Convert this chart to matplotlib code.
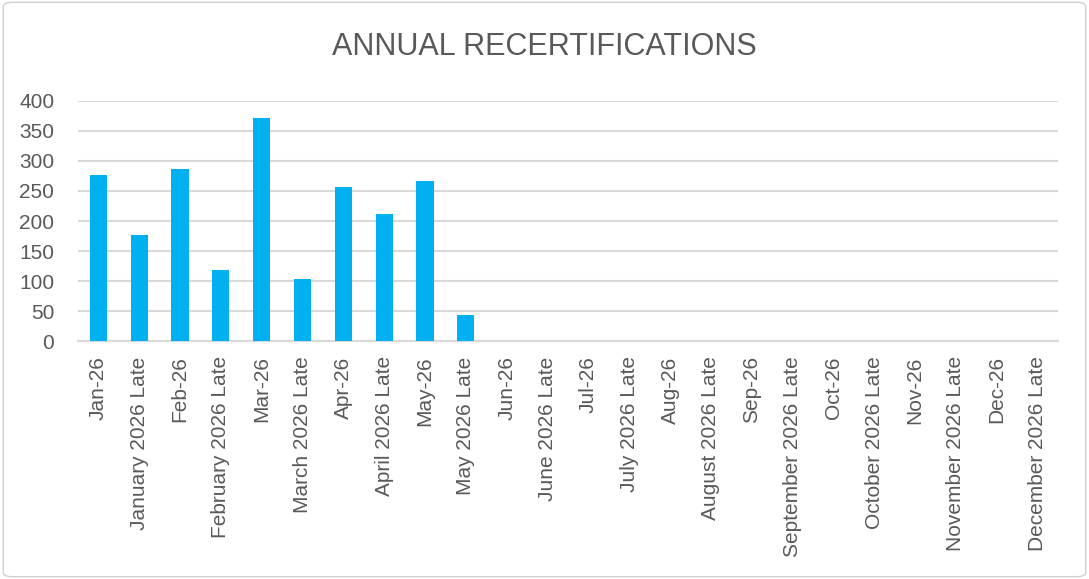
import matplotlib.pyplot as plt
from matplotlib.patches import FancyBboxPatch

plt.rcParams['font.family'] = ['Liberation Sans', 'DejaVu Sans']

categories = ['Jan-26', 'January 2026 Late', 'Feb-26', 'February 2026 Late',
              'Mar-26', 'March 2026 Late', 'Apr-26', 'April 2026 Late',
              'May-26', 'May 2026 Late', 'Jun-26', 'June 2026 Late',
              'Jul-26', 'July 2026 Late', 'Aug-26', 'August 2026 Late',
              'Sep-26', 'September 2026 Late', 'Oct-26', 'October 2026 Late',
              'Nov-26', 'November 2026 Late', 'Dec-26', 'December 2026 Late']
values = [277, 177, 286, 119, 372, 104, 256, 211, 267, 44,
          0, 0, 0, 0, 0, 0, 0, 0, 0, 0, 0, 0, 0, 0]
yticks = [0, 50, 100, 150, 200, 250, 300, 350, 400]

fig = plt.figure(figsize=(10.89, 5.79), dpi=100)
border = FancyBboxPatch((0.003, 0.004), 0.994, 0.992,
                        boxstyle='round,pad=0,rounding_size=0.008',
                        transform=fig.transFigure, facecolor='white',
                        edgecolor='#D0D0D0', linewidth=1.0, zorder=-1)
fig.patches.append(border)
ax = fig.add_axes([0.0716, 0.411, 0.8999, 0.4146])
ax.patch.set_alpha(0)

x = range(len(categories))
ax.bar(x, values, width=0.42, color='#00B0F0', zorder=3)
ax.set_xlim(-0.5, len(categories) - 0.5)
ax.set_ylim(0, 400)
ax.set_yticks(yticks)
ax.set_xticks(list(x))
ax.set_xticklabels(categories, rotation=90)
ax.tick_params(axis='both', length=0, labelsize=15, colors='#595959')
ax.tick_params(axis='y', pad=17)
ax.tick_params(axis='x', pad=11)
ax.grid(axis='y', color='#D9D9D9', linewidth=1.5, zorder=0)
for s in ['top', 'right', 'left']:
    ax.spines[s].set_visible(False)
ax.spines['bottom'].set_color('#D9D9D9')
ax.spines['bottom'].set_linewidth(1.5)

fig.text(0.5, 0.918, 'ANNUAL RECERTIFICATIONS', ha='center', va='center',
         fontsize=22, color='#595959')

fig.savefig('out.png', dpi=100)
